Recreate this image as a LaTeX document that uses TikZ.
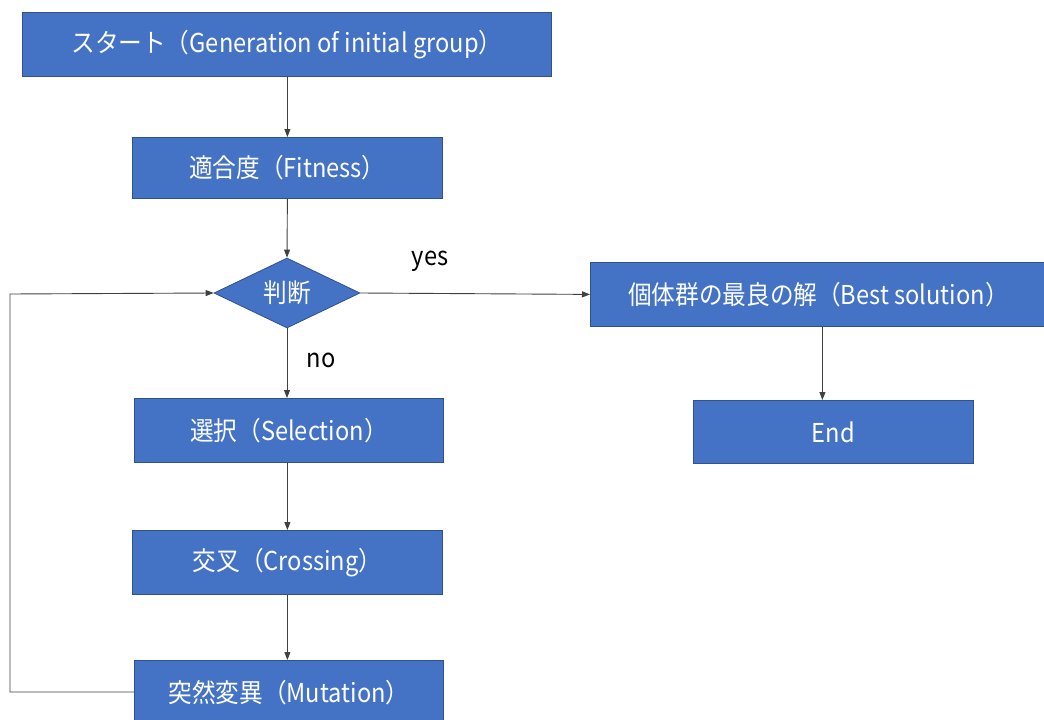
\documentclass[tikz,border=0pt]{standalone}
\usepackage{fontspec}
\usepackage{graphicx}
\setmainfont{Noto Sans CJK JP}
\usetikzlibrary{arrows.meta,shapes.geometric}
\definecolor{boxfill}{HTML}{4472C4}
\definecolor{boxedge}{HTML}{2F528F}
\definecolor{linkcol}{HTML}{404040}
% narrow, tall lettering for every label
\newcommand{\lbl}[1]{\scalebox{0.91}[1]{#1}}
\begin{document}
\begin{tikzpicture}[x=1pt,y=-1pt,
  stepbox/.style={draw=boxedge,line width=0.8pt,fill=boxfill,text=white,
    font=\fontsize{26}{30}\selectfont,inner sep=0pt,anchor=north west},
  decide/.style={diamond,draw=boxedge,line width=0.8pt,fill=boxfill,text=white,
    font=\fontsize{26}{30}\selectfont,inner sep=0pt,minimum width=146pt,
    minimum height=70pt,aspect=2.1},
  link/.style={draw=linkcol,line width=0.9pt,-{Triangle[length=8pt,width=6pt]}},
  tag/.style={font=\fontsize{26}{30}\selectfont,text=black}]
\useasboundingbox (0,0) rectangle (1044,720);
\clip (0,0) rectangle (1044,720);
\node[stepbox,minimum width=529pt,minimum height=64pt] (start) at (22,12)
  {\lbl{スタート（Generation of initial group）}};
\node[stepbox,minimum width=310pt,minimum height=61pt] (fit) at (132,137)
  {\lbl{適合度（Fitness）}};
\node[decide] (judge) at (287,293) {\lbl{判断}};
\node[stepbox,minimum width=456pt,minimum height=64pt] (best) at (590,262)
  {\lbl{個体群の最良の解（Best solution）}};
\node[stepbox,minimum width=280pt,minimum height=63pt] (end) at (693,400)
  {\lbl{End}};
\node[stepbox,minimum width=309pt,minimum height=64pt] (sel) at (134,398)
  {\lbl{選択（Selection）}};
\node[stepbox,minimum width=310pt,minimum height=64pt] (cross) at (132,530)
  {\lbl{交叉（Crossing）}};
\node[stepbox,minimum width=309pt,minimum height=64pt] (mut) at (134,660)
  {\lbl{突然変異（Mutation）}};
\coordinate (loopb) at (10,692);
\coordinate (loopt) at (10,294);
\draw[link] (start.south -| fit.north) -- (fit.north);
\draw[link] (fit.south) -- (judge.north);
\draw[link] (judge.east) -- (best.west);
\draw[link] (judge.south) -- (sel.north -| judge.south);
\draw[link] (sel.south -| cross.north) -- (cross.north);
\draw[link] (cross.south) -- (mut.north -| cross.south);
\draw[link] (mut.west |- loopb) -- (loopb) -- (loopt) -- (judge.west);
\draw[link] (best.south -| end.north) ++(-11,0) coordinate (bs) -- (bs |- end.north);
\node[tag] (yes) at (430,261) {\lbl{yes}};
\node[tag] (no) at (321,360) {\lbl{no}};
\end{tikzpicture}
\end{document}
